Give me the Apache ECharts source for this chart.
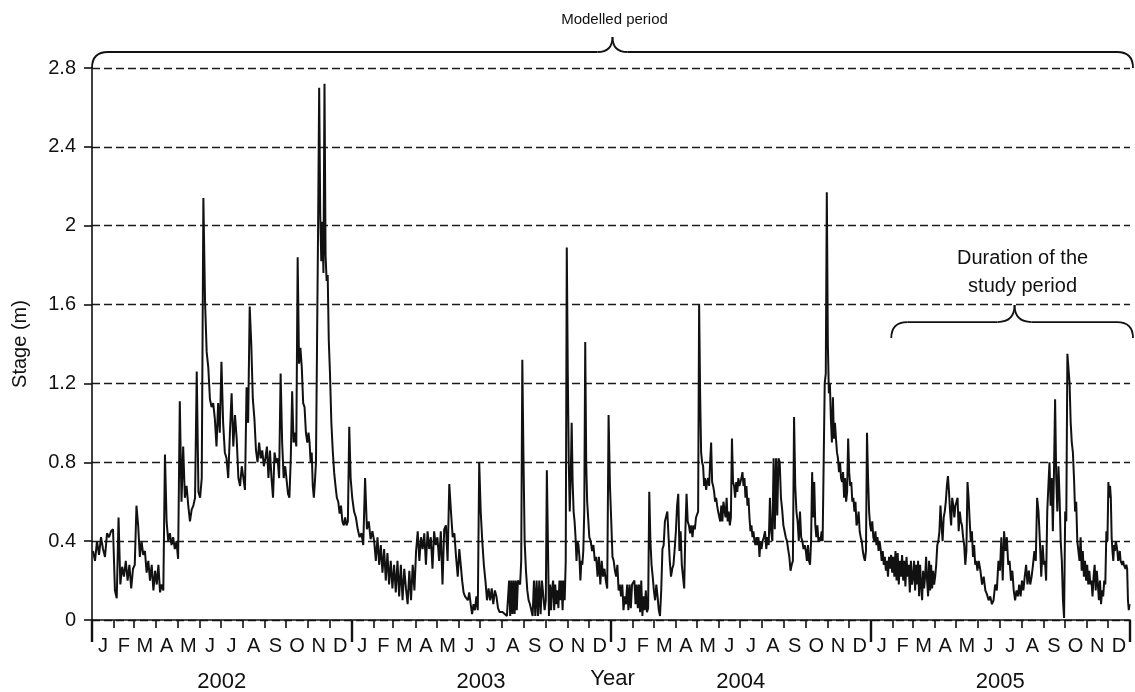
<!DOCTYPE html>
<html><head><meta charset="utf-8">
<script src="https://cdn.jsdelivr.net/npm/echarts@6/dist/echarts.min.js"></script>
<style>html,body{margin:0;padding:0;background:#fff}#c{width:1135px;height:692px}</style>
</head><body><div id="c"></div>
<script>
// ---------- data ----------
const monthLetters = ['J','F','M','A','M','J','J','A','S','O','N','D'];
const years = [2002, 2003, 2004, 2005];
const yTicks = [0, 0.4, 0.8, 1.2, 1.6, 2.0, 2.4, 2.8];
const axisTitleX = 'Year';
const axisTitleY = 'Stage (m)';
const noteModelled = 'Modelled period';
const noteStudy = ['Duration of the', 'study period'];
const studyStart = '2005-01-30';

// stage values (m), read per month (evenly spaced within each month)
const stage2002 = [
  [0.35, 0.30, 0.40, 0.33, 0.42, 0.36, 0.32, 0.44, 0.42, 0.45, 0.46],
  [0.15, 0.11, 0.52, 0.18, 0.27, 0.22, 0.30, 0.20, 0.28, 0.16, 0.26],
  [0.28, 0.58, 0.48, 0.32, 0.40, 0.33, 0.35, 0.24, 0.30, 0.20, 0.28, 0.15, 0.25],
  [0.18, 0.28, 0.14, 0.18, 0.15, 0.84, 0.50, 0.40, 0.44, 0.38, 0.42, 0.36, 0.40],
  [0.31, 1.11, 0.60, 0.88, 0.62, 0.68, 0.58, 0.50, 0.56, 0.58, 0.62, 1.26, 0.65],
  [0.62, 0.72, 2.14, 1.62, 1.36, 1.28, 1.12, 1.08, 1.10, 1.02, 0.88, 1.10, 0.95],
  [1.31, 1.00, 0.85, 0.82, 0.72, 0.95, 1.15, 0.88, 1.04, 0.92, 0.72, 0.68, 0.78],
  [0.72, 0.66, 1.18, 1.00, 1.59, 1.40, 1.12, 1.02, 0.86, 0.80, 0.90, 0.82, 0.86, 0.78],
  [0.82, 0.88, 0.72, 0.86, 0.72, 0.62, 0.85, 0.80, 0.82, 0.72, 1.25, 0.90, 0.72, 0.78],
  [0.78, 0.64, 0.62, 0.82, 1.16, 0.90, 0.95, 0.88, 1.84, 1.30, 1.38, 1.28, 1.10, 1.08, 0.95, 0.90],
  [0.95, 0.90, 0.80, 0.85, 0.68, 0.62, 0.70, 0.80, 1.40, 2.00, 2.70, 2.05, 1.82, 2.02, 1.76, 2.72, 1.85, 1.72, 1.75, 1.42],
  [1.25, 1.00, 0.86, 0.75, 0.68, 0.62, 0.60, 0.54, 0.58, 0.50, 0.48, 0.52, 0.48, 0.50, 0.98, 0.72]
];
const stage2003 = [
  [0.62, 0.55, 0.52, 0.46, 0.42, 0.44, 0.38, 0.72, 0.46, 0.50, 0.41, 0.45],
  [0.40, 0.30, 0.42, 0.28, 0.38, 0.24, 0.36, 0.20, 0.34, 0.18, 0.30, 0.16],
  [0.28, 0.14, 0.30, 0.12, 0.28, 0.10, 0.26, 0.16, 0.08, 0.25, 0.10, 0.28, 0.15],
  [0.35, 0.45, 0.30, 0.42, 0.36, 0.44, 0.28, 0.45, 0.36, 0.42, 0.26, 0.45, 0.38],
  [0.42, 0.30, 0.45, 0.18, 0.46, 0.48, 0.30, 0.69, 0.55, 0.42, 0.44, 0.32, 0.22],
  [0.36, 0.28, 0.20, 0.14, 0.12, 0.13, 0.10, 0.14, 0.08, 0.03, 0.08, 0.05, 0.12, 0.05, 0.80],
  [0.55, 0.40, 0.28, 0.20, 0.10, 0.16, 0.10, 0.16, 0.08, 0.15, 0.12, 0.06, 0.04, 0.03],
  [0.04, 0.03, 0.03, 0.02, 0.02, 0.02, 0.20, 0.02, 0.20, 0.03, 0.20, 0.03, 0.20, 0.05, 0.20, 0.20, 0.18, 0.30, 1.32, 0.85],
  [0.40, 0.25, 0.15, 0.10, 0.08, 0.05, 0.02, 0.20, 0.02, 0.20, 0.02, 0.20, 0.03, 0.20, 0.20, 0.05],
  [0.10, 0.76, 0.40, 0.02, 0.18, 0.05, 0.16, 0.20, 0.05, 0.18, 0.08, 0.15, 0.06, 0.20, 0.10, 0.20, 0.05, 0.20, 0.10, 0.30, 1.89],
  [1.25, 0.80, 0.55, 0.72, 1.00, 0.70, 0.55, 0.50, 0.42, 0.30, 0.40, 0.38, 0.32, 0.20, 0.30, 0.28, 0.35, 0.55, 1.41, 0.80, 0.60, 0.52],
  [0.42, 0.40, 0.35, 0.38, 0.30, 0.32, 0.22, 0.32, 0.18, 0.30, 0.22, 0.26, 0.20, 0.16, 1.04, 0.68]
];
const stage2004 = [
  [0.50, 0.32, 0.30, 0.25, 0.22, 0.28, 0.15, 0.18, 0.12, 0.18, 0.05, 0.12, 0.08, 0.18, 0.05, 0.18, 0.06, 0.18],
  [0.18, 0.20, 0.08, 0.18, 0.06, 0.18, 0.04, 0.20, 0.02, 0.12, 0.05, 0.15, 0.04, 0.06, 0.65, 0.40, 0.28, 0.22],
  [0.15, 0.10, 0.18, 0.12, 0.05, 0.02, 0.15, 0.36, 0.38, 0.50, 0.50, 0.55, 0.42, 0.30, 0.22, 0.26, 0.28, 0.36],
  [0.45, 0.58, 0.64, 0.35, 0.45, 0.28, 0.22, 0.16, 0.45, 0.64, 0.50, 0.48, 0.44, 0.48, 0.42, 0.48, 0.46, 0.52],
  [0.52, 0.55, 1.60, 1.15, 0.85, 0.80, 0.78, 0.68, 0.72, 0.66, 0.70, 0.72, 0.68, 0.80, 0.90, 0.70, 0.68, 0.65, 0.60, 0.62, 0.58, 0.55],
  [0.55, 0.50, 0.58, 0.50, 0.60, 0.56, 0.52, 0.62, 0.50, 0.55, 0.48, 0.52, 0.92, 0.70, 0.68, 0.62, 0.70, 0.65, 0.72, 0.68],
  [0.68, 0.72, 0.75, 0.68, 0.72, 0.62, 0.68, 0.58, 0.62, 0.52, 0.45, 0.48, 0.42, 0.45, 0.40, 0.38, 0.42, 0.38, 0.42, 0.32, 0.40, 0.36],
  [0.40, 0.42, 0.45, 0.36, 0.42, 0.38, 0.62, 0.45, 0.40, 0.82, 0.46, 0.82, 0.53, 0.82, 0.80, 0.62, 0.56, 0.48],
  [0.45, 0.42, 0.40, 0.36, 0.32, 0.25, 0.28, 0.30, 1.03, 0.68, 0.55, 0.50, 0.40, 0.55, 0.42, 0.40, 0.36, 0.38],
  [0.35, 0.30, 0.38, 0.30, 0.28, 0.40, 0.75, 0.52, 0.70, 0.48, 0.42, 0.48, 0.40, 0.42, 0.40, 0.45, 0.40, 0.80, 1.20, 1.25, 2.17],
  [1.40, 1.15, 1.20, 1.02, 0.90, 1.13, 0.92, 1.00, 0.92, 0.85, 0.82, 0.75, 0.80, 0.72, 0.70, 0.75, 0.62, 0.72, 0.60, 0.65, 0.92],
  [0.75, 0.68, 0.70, 0.60, 0.62, 0.55, 0.60, 0.48, 0.50, 0.55, 0.45, 0.42, 0.40, 0.35, 0.32, 0.30, 0.35, 0.95, 0.72, 0.55, 0.48]
];
const stage2005 = [
  [0.45, 0.50, 0.42, 0.40, 0.45, 0.38, 0.42, 0.35, 0.40, 0.36, 0.30, 0.35, 0.28, 0.32, 0.25, 0.30, 0.22, 0.32, 0.26, 0.33, 0.24],
  [0.32, 0.22, 0.35, 0.20, 0.34, 0.18, 0.30, 0.22, 0.33, 0.20, 0.30, 0.17, 0.32, 0.22, 0.28, 0.14, 0.30, 0.18],
  [0.22, 0.30, 0.15, 0.28, 0.18, 0.30, 0.12, 0.28, 0.18, 0.10, 0.25, 0.16, 0.22, 0.32, 0.20, 0.12, 0.30, 0.15, 0.28, 0.16, 0.25, 0.18],
  [0.22, 0.28, 0.38, 0.40, 0.45, 0.58, 0.48, 0.40, 0.52, 0.55, 0.60, 0.68, 0.73, 0.65, 0.55, 0.48, 0.62, 0.58, 0.52, 0.58],
  [0.58, 0.62, 0.45, 0.55, 0.50, 0.48, 0.42, 0.38, 0.28, 0.35, 0.70, 0.62, 0.50, 0.40, 0.45, 0.32, 0.38, 0.28, 0.30, 0.25],
  [0.30, 0.25, 0.18, 0.22, 0.15, 0.13, 0.10, 0.12, 0.08, 0.10, 0.18, 0.15, 0.30],
  [0.25, 0.42, 0.20, 0.45, 0.35, 0.42, 0.28, 0.30, 0.20, 0.25, 0.15, 0.10, 0.15, 0.12, 0.18, 0.12],
  [0.20, 0.15, 0.22, 0.28, 0.18, 0.25, 0.18, 0.22, 0.28, 0.35, 0.30, 0.62, 0.55, 0.40, 0.22, 0.38],
  [0.28, 0.30, 0.20, 0.55, 0.68, 0.80, 0.58, 0.72, 0.45, 0.75, 1.12, 0.72, 0.55, 0.78, 0.62, 0.40, 0.30, 0.10, 0.01],
  [0.55, 0.50, 1.35, 1.36, 1.20, 1.00, 0.90, 0.85, 0.72, 0.55, 0.60, 0.40, 0.35, 0.30, 0.42, 0.25, 0.35, 0.22, 0.30, 0.20],
  [0.28, 0.18, 0.25, 0.18, 0.20, 0.12, 0.22, 0.28, 0.15, 0.25, 0.18, 0.10, 0.20, 0.08, 0.15, 0.12, 0.20, 0.18, 0.45, 0.40],
  [0.70, 0.62, 0.68, 0.62, 0.42, 0.35, 0.30, 0.38, 0.35, 0.40, 0.38, 0.35, 0.30, 0.32, 0.35, 0.30, 0.30, 0.28, 0.30, 0.28, 0.28, 0.26, 0.28, 0.26, 0.10, 0.05, 0.08]
];

// ---------- build ----------
const DAY = 86400000;
const T0 = Date.UTC(years[0], 0, 1);
const dayOf = (y, m) => (Date.UTC(y, m, 1) - T0) / DAY;
const totalDays = dayOf(years[years.length - 1] + 1, 0);

const points = [];
[stage2002, stage2003, stage2004, stage2005].forEach((yr, yi) => {
  const y = years[yi];
  yr.forEach((vals, m) => {
    const s = dayOf(y, m), len = dayOf(y, m + 1) - s;
    vals.forEach((v, k) => points.push([s + (k + 0.5) * len / vals.length, v]));
  });
});

const monthStarts = [], monthMids = [], monthLabelMap = {};
const yearStarts = [], yearMids = [], yearLabelMap = {};
years.forEach(y => {
  yearStarts.push(dayOf(y, 0));
  const ym = (dayOf(y, 0) + dayOf(y + 1, 0)) / 2;
  yearMids.push(ym); yearLabelMap[ym.toFixed(2)] = String(y);
  for (let m = 0; m < 12; m++) {
    monthStarts.push(dayOf(y, m));
    const mid = (dayOf(y, m) + dayOf(y, m + 1)) / 2;
    monthMids.push(mid); monthLabelMap[mid.toFixed(2)] = monthLetters[m];
  }
});
yearStarts.push(totalDays); monthStarts.push(totalDays);

const FONT = '"Liberation Sans", Arial, Helvetica, sans-serif';
const INK = '#111';

const chart = echarts.init(document.getElementById('c'), null, { renderer: 'canvas' });
chart.setOption({
  animation: false,
  backgroundColor: '#fff',
  grid: { left: 92, right: 5, top: 68, bottom: 72, outerBoundsMode: 'none' },
  xAxis: [{
    type: 'value', min: 0, max: totalDays,
    axisLine: { show: true, lineStyle: { color: INK, width: 1.6 } },
    axisTick: { show: true, customValues: monthStarts, length: 8, lineStyle: { color: INK, width: 1.6 } },
    axisLabel: { show: true, customValues: monthMids, formatter: v => monthLabelMap[(+v).toFixed(2)] || '',
      color: INK, fontSize: 20, fontFamily: FONT, margin: 16 },
    splitLine: { show: false }
  }, {
    type: 'value', min: 0, max: totalDays, position: 'bottom',
    axisLine: { show: false },
    axisTick: { show: true, customValues: yearStarts, length: 22, lineStyle: { color: INK, width: 2.4 } },
    axisLabel: { show: true, customValues: yearMids, formatter: v => yearLabelMap[(+v).toFixed(2)] || '',
      color: INK, fontSize: 22, fontFamily: FONT, margin: 51 },
    splitLine: { show: false }
  }],
  yAxis: {
    type: 'value', min: yTicks[0], max: yTicks[yTicks.length - 1], interval: yTicks[1] - yTicks[0],
    axisLine: { show: true, lineStyle: { color: INK, width: 1.6 } },
    axisTick: { show: true, length: 8, lineStyle: { color: INK, width: 1.6 } },
    axisLabel: { color: INK, fontSize: 20, fontFamily: FONT, margin: 16, formatter: v => String(+(+v).toFixed(1)) },
    splitLine: { show: true, lineStyle: { color: '#1a1a1a', width: 1.4, type: [8, 4] } },
    name: axisTitleY, nameLocation: 'middle', nameGap: 62, nameRotate: 90,
    nameTextStyle: { color: INK, fontSize: 20, fontFamily: FONT }
  },
  series: [{
    type: 'line', data: points, xAxisIndex: 0, yAxisIndex: 0,
    showSymbol: false, symbol: 'none',
    lineStyle: { color: INK, width: 2 }, z: 3
  }]
});

// ---------- braces & notes ----------
const braceStyle = { stroke: INK, lineWidth: 1.8, fill: null };
function brace(x0, x1, yEnd, yb, xm, yt, r) {
  const r2 = yb - yt;
  const q = (ax, ay, cx, cy, bx, by) => ({ type: 'bezierCurve', silent: true,
    shape: { x1: ax, y1: ay, cpx1: cx, cpy1: cy, x2: bx, y2: by }, style: braceStyle });
  const l = (ax, ay, bx, by) => ({ type: 'line', silent: true,
    shape: { x1: ax, y1: ay, x2: bx, y2: by }, style: braceStyle });
  return [
    q(x0, yEnd, x0, yb, x0 + r, yb),
    l(x0 + r, yb, xm - r2, yb),
    q(xm - r2, yb, xm, yb, xm, yt),
    q(xm, yt, xm, yb, xm + r2, yb),
    l(xm + r2, yb, x1 - r, yb),
    q(x1 - r, yb, x1, yb, x1, yEnd)
  ];
}
const px = d => chart.convertToPixel({ xAxisIndex: 0 }, d);
const py = v => chart.convertToPixel({ yAxisIndex: 0 }, v);
const xL = px(0), xR = px(totalDays) + 3;
const yTop = py(yTicks[yTicks.length - 1]);
const yBase = py(0);
const xMid = (xL + xR) / 2;
const sDay = (Date.parse(studyStart) - T0) / DAY;
const sx0 = px(sDay), sx1 = xR;
const sxm = sx0 + (sx1 - sx0) * 0.51;
const sYend = py(1.43);
chart.setOption({
  graphic: [].concat(
    brace(xL, xR, yTop, yTop - 16, xMid, yTop - 31, 16),
    [{ type: 'text', silent: true, style: { text: noteModelled, x: xMid + 2, y: 20, textAlign: 'center', textVerticalAlign: 'middle',
      font: `15px ${FONT}`, fill: INK } }],
    brace(sx0, sx1, sYend, sYend - 16, sxm, sYend - 33, 16),
    [{ type: 'text', silent: true, style: { text: noteStudy.join('\n'), x: sxm + 8, y: sYend - 66, textAlign: 'center', textVerticalAlign: 'middle',
      font: `20px ${FONT}`, fill: INK, lineHeight: 28 } },
     { type: 'text', silent: true, style: { text: axisTitleX, x: xMid, y: yBase + 59, textAlign: 'center', textVerticalAlign: 'middle',
      font: `22px ${FONT}`, fill: INK } }]
  )
});
</script>
</body></html>
